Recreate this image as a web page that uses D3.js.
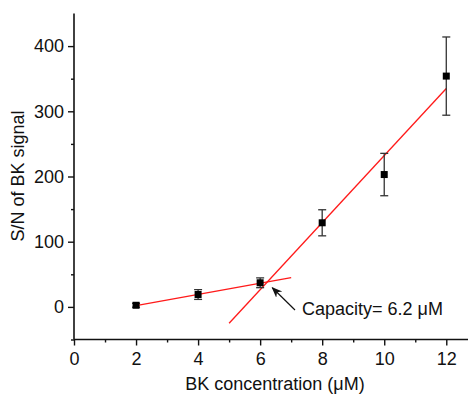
<!DOCTYPE html>
<html lang="en">
<head>
<meta charset="UTF-8">
<title>S/N of BK signal</title>
<script src="https://cdnjs.cloudflare.com/ajax/libs/d3/7.8.5/d3.min.js"></script>
<style>
    body { margin: 0; background: #fff; }
    svg text { font-family: "Liberation Sans", Arial, sans-serif; fill: #111; }
</style>
</head>
<body>
<script>
    // measured points
    const conc = [2, 4, 6, 8, 10, 12];
    const snr = [2.5, 19, 37, 129, 203, 354];
    const err = [3, 7.5, 7.5, 20, 32.5, 60];

    // two linear fits
    const fitLow = [[2, 2], [7, 45]];
    const fitHigh = [[5, -25], [12, 335]];

    const xTicks = [0, 2, 4, 6, 8, 10, 12];
    const yTicks = [0, 100, 200, 300, 400];

    const width = 473, height = 396;
    const m = { left: 74, right: 5, top: 13.5, bottom: 56.5 };
    const fs = '18px';

    const svg = d3.select('body').append('svg')
        .attr('width', width)
        .attr('height', height);

    const x = d3.scaleLinear().domain([0, 12.7]).range([m.left, width - m.right]);
    const y = d3.scaleLinear().domain([-50, 450]).range([height - m.bottom, m.top]);

    // axes
    const xAxis = svg.append('g')
        .attr('transform', `translate(0,${height - m.bottom})`)
        .call(d3.axisBottom(x).tickValues(xTicks).tickSize(6).tickPadding(7).tickFormat(d3.format('d')));
    svg.append('g')
        .attr('transform', `translate(0,${height - m.bottom})`)
        .call(d3.axisBottom(x).tickValues([1, 3, 5, 7, 9, 11]).tickSize(3).tickFormat(''))
        .select('.domain').remove();

    const yAxis = svg.append('g')
        .attr('transform', `translate(${m.left},0)`)
        .call(d3.axisLeft(y).tickValues(yTicks).tickSize(6).tickPadding(4));
    svg.append('g')
        .attr('transform', `translate(${m.left},0)`)
        .call(d3.axisLeft(y).tickValues([-50, 50, 150, 250, 350]).tickSize(3).tickFormat(''))
        .select('.domain').remove();

    svg.selectAll('.domain').attr('stroke', '#111').attr('stroke-width', 1.6);
    xAxis.select('.domain').attr('d', `M${m.left},0H${width - m.right}`);
    yAxis.select('.domain').attr('d', `M0,${y(-50)}V${m.top}`);
    svg.selectAll('.tick line').attr('stroke', '#111').attr('stroke-width', 1.4);
    svg.selectAll('.tick text').style('font-size', fs).attr('fill', '#111');

    // axis titles
    svg.append('text')
        .attr('x', 275)
        .attr('y', 390)
        .attr('text-anchor', 'middle')
        .style('font-size', fs)
        .text('BK concentration (μM)');
    svg.append('text')
        .attr('transform', `translate(24,176) rotate(-90)`)
        .attr('text-anchor', 'middle')
        .style('font-size', fs)
        .text('S/N of BK signal');

    // fit lines
    const line = d3.line().x(d => x(d[0])).y(d => y(d[1]));
    svg.selectAll('path.fit')
        .data([fitLow, fitHigh])
        .enter().append('path')
        .attr('class', 'fit')
        .attr('d', line)
        .attr('fill', 'none')
        .attr('stroke', '#ff1a1a')
        .attr('stroke-width', 1.3);

    // error bars
    const pts = conc.map((c, i) => ({ c, v: snr[i], e: err[i] }));
    const eb = svg.append('g').attr('stroke', '#333').attr('stroke-width', 1.3);
    pts.forEach(p => {
        eb.append('line').attr('x1', x(p.c)).attr('x2', x(p.c))
            .attr('y1', y(p.v - p.e)).attr('y2', y(p.v + p.e));
        [p.v - p.e, p.v + p.e].forEach(v => {
            eb.append('line').attr('x1', x(p.c) - 4).attr('x2', x(p.c) + 4)
                .attr('y1', y(v)).attr('y2', y(v));
        });
    });

    // markers
    svg.selectAll('rect.pt')
        .data(pts)
        .enter().append('rect')
        .attr('class', 'pt')
        .attr('x', d => x(d.c) - 3.5)
        .attr('y', d => y(d.v) - 3.5)
        .attr('width', 7)
        .attr('height', 7)
        .attr('fill', '#000');

    // annotation
    svg.append('defs').append('marker')
        .attr('id', 'arr')
        .attr('viewBox', '0 0 10 10')
        .attr('refX', 9).attr('refY', 5)
        .attr('markerWidth', 9).attr('markerHeight', 9)
        .attr('orient', 'auto')
        .append('path').attr('d', 'M0,1L10,5L0,9L3,5Z').attr('fill', '#111');
    svg.append('line')
        .attr('x1', 295).attr('y1', 310)
        .attr('x2', x(6.2) + 6).attr('y2', y(37) + 5)
        .attr('stroke', '#111').attr('stroke-width', 1.2)
        .attr('marker-end', 'url(#arr)');
    svg.append('text')
        .attr('x', 302)
        .attr('y', 315)
        .style('font-size', fs)
        .text('Capacity= 6.2 μM');
</script>
</body>
</html>
